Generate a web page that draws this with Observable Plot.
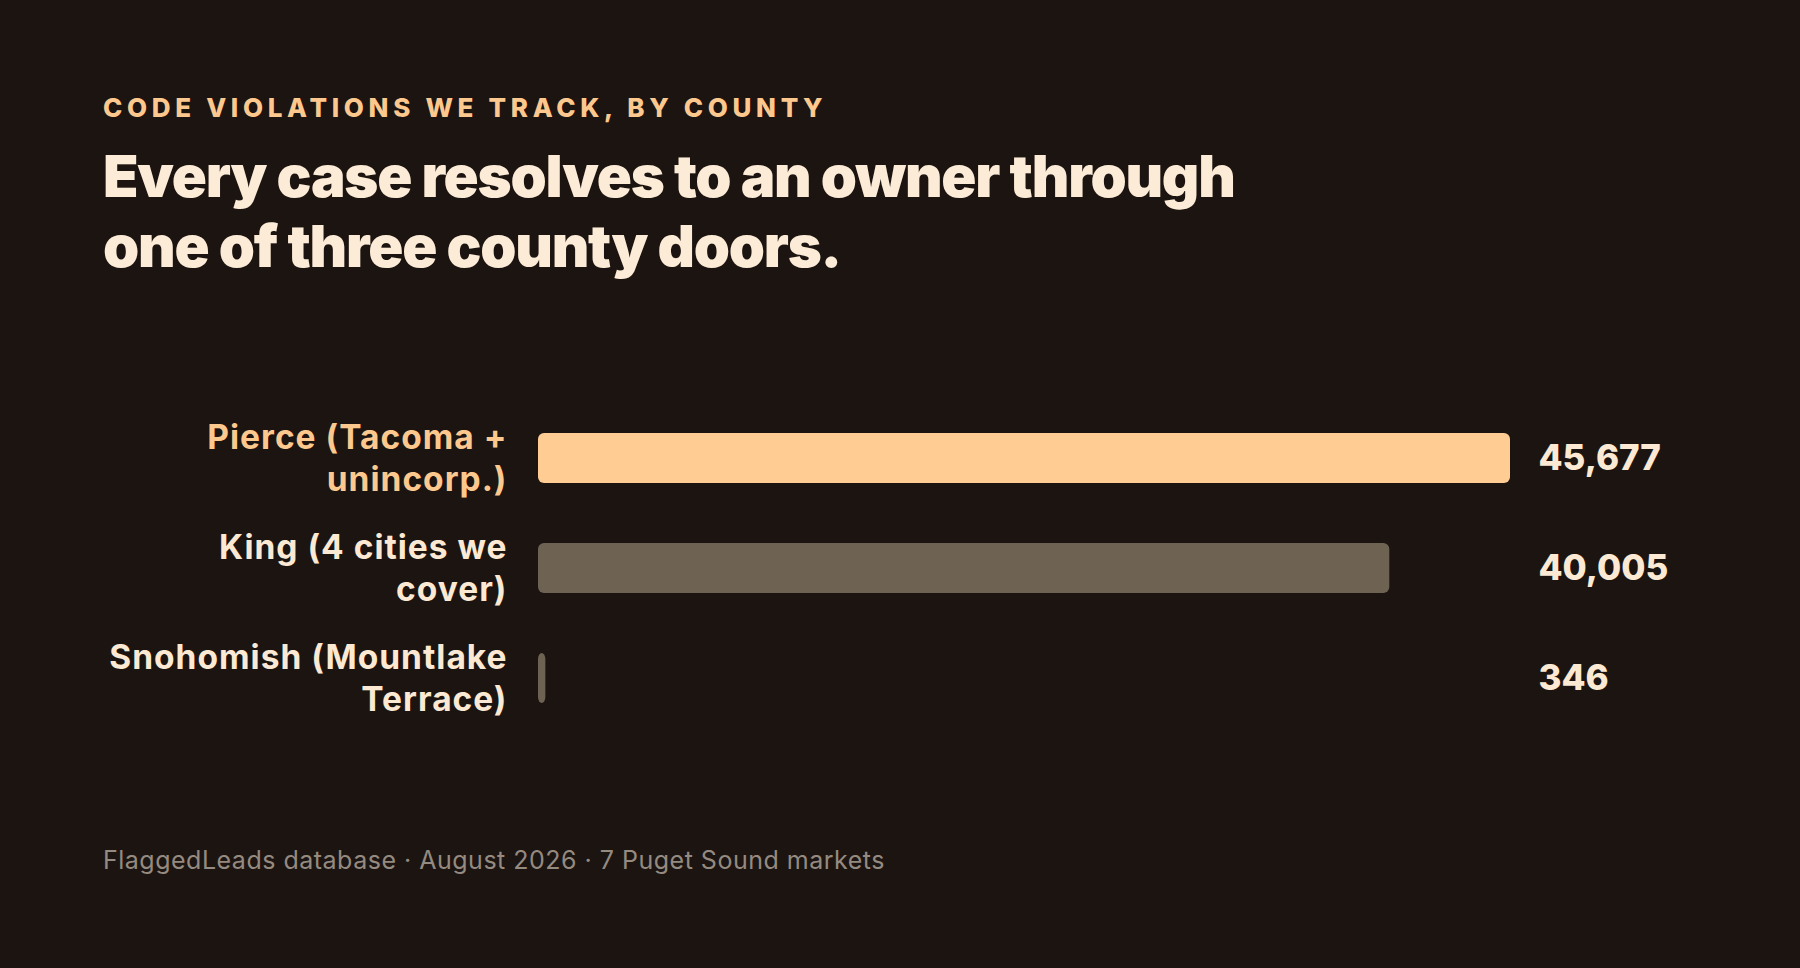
<!DOCTYPE html>
<html>
<head>
<meta charset="utf-8">
<script src="https://cdn.jsdelivr.net/npm/d3@7"></script>
<script src="https://cdn.jsdelivr.net/npm/@observablehq/plot@0.6"></script>
<style>
  html, body { margin: 0; padding: 0; background: #1b1411; }
  body { width: 1800px; height: 968px; position: relative; overflow: hidden; font-family: Inter, "Noto Sans", sans-serif; }
  .eyebrow { position: absolute; left: 103px; top: 95px; font-size: 26px; line-height: 26px; font-weight: 800; letter-spacing: 0.18em; color: #fcc88e; }
  .title { position: absolute; left: 103px; top: 141px; font-size: 58px; line-height: 70px; font-weight: 900; letter-spacing: -0.021em; color: #fcebd6; width: 1400px; }
  #chart { position: absolute; left: 103px; top: 340px; }
  .footer { position: absolute; left: 103px; top: 848px; font-size: 25px; line-height: 25px; font-weight: 400; letter-spacing: 0.02em; color: #958a80; }
</style>
</head>
<body>
<div class="eyebrow">CODE VIOLATIONS WE TRACK, BY COUNTY</div>
<div class="title">Every case resolves to an owner through<br>one of three county doors.</div>
<div id="chart"></div>
<div class="footer">FlaggedLeads database · August 2026 · 7 Puget Sound markets</div>
<script>
const counties = ["Pierce (Tacoma + unincorp.)", "King (4 cities we cover)", "Snohomish (Mountlake Terrace)"];
const countyLabels = ["Pierce (Tacoma +\nunincorp.)", "King (4 cities we\ncover)", "Snohomish (Mountlake\nTerrace)"];
const violations = [45677, 40005, 346];

const data = counties.map((c, i) => ({county: c, label: countyLabels[i], value: violations[i], highlight: i === 0}));
const labelOf = new Map(data.map(d => [d.county, d.label]));

const chart = Plot.plot({
  width: 1600,
  height: 443,
  marginLeft: 435,
  marginRight: 193,
  marginTop: 33,
  marginBottom: 20,
  style: {background: "transparent", fontFamily: "Inter, 'Noto Sans', sans-serif"},
  x: {domain: [0, d3.max(violations)], axis: null},
  y: {domain: counties, padding: 0.545, label: null},
  marks: [
    Plot.barX(data, {
      y: "county",
      x: "value",
      fill: d => d.highlight ? "#ffcd94" : "#6e6253",
      rx: 6
    }),
    Plot.axisY({
      tickSize: 0,
      tickPadding: 31,
      tickFormat: d => labelOf.get(d),
      fontSize: 33.5,
      fontWeight: 700,
      lineHeight: 1.27,
      dy: -2,
      fill: d => d === counties[0] ? "#fcc88e" : "#fbe9d3",
      label: null
    }),
    Plot.text(data, {
      y: "county",
      text: d => d3.format(",")(d.value),
      frameAnchor: "right",
      textAnchor: "start",
      dx: 28,
      fontSize: 35,
      fontWeight: 800,
      fill: "#fbe9d3"
    })
  ]
});
chart.querySelectorAll("[aria-label='y-axis tick label'] text").forEach(t => t.style.letterSpacing = "0.03em");
document.getElementById("chart").appendChild(chart);
</script>
</body>
</html>
